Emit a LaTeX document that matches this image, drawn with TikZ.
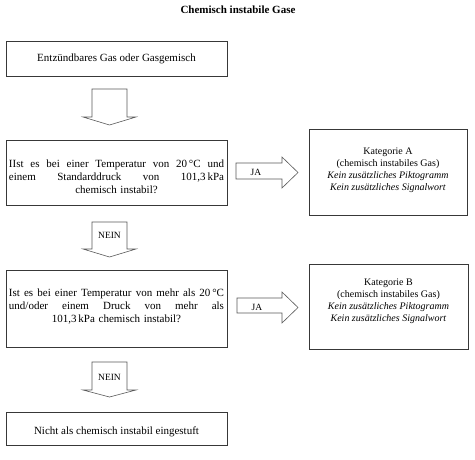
\documentclass[tikz,border=0pt]{standalone}
\usepackage{fontspec}
\setmainfont{Liberation Serif}
\usetikzlibrary{calc}
\definecolor{boxcol}{gray}{0.22}
\definecolor{arrowcol}{gray}{0.35}
\newcommand\jline[1]{\leavevmode\hbox to 215pt{\spaceskip=0.25em plus 1fil\relax #1}}
\tikzset{
  box/.style={draw=boxcol, line width=0.9pt, fill=white, inner sep=0pt},
  blockarrow/.style={draw=arrowcol, line width=0.6pt, fill=white, line join=miter},
  txt/.style={font=\fontsize{11}{13}\selectfont, inner sep=0pt, align=center},
  cattxt/.style={font=\fontsize{10}{12}\selectfont, inner sep=0pt, align=center},
  lbl/.style={font=\fontsize{9.5}{11}\selectfont, inner sep=0pt},
  ttl/.style={font=\fontsize{11}{13}\selectfont\bfseries, inner sep=0pt}
}
\begin{document}
\begin{tikzpicture}[x=1pt,y=-1pt]
\useasboundingbox (0,0) rectangle (475,459);

\node[ttl] (title) at (238,10) {Chemisch instabile Gase};

% boxes
\node[box, minimum width=221pt, minimum height=35pt] (b1) at (116.5,58.5) {};
\node[box, minimum width=221pt, minimum height=65pt] (b2) at (116.5,172.5) {};
\node[box, minimum width=221pt, minimum height=77pt] (b3) at (116.5,308.5) {};
\node[box, minimum width=221pt, minimum height=33pt] (b4) at (116.5,428.5) {};
\node[box, minimum width=158pt, minimum height=86pt] (ca) at (388,172) {};
\node[box, minimum width=159pt, minimum height=85pt] (cb) at (388.5,306.5) {};

% texts
\node[txt] (t1) at (b1.center) {Entzündbares Gas oder Gasgemisch};
\node[txt, text width=215pt] (t2) at ($(b2.center)+(0,4.5)$) {%
  \jline{IIst es bei einer Temperatur von 20\,°C und}\\
  \jline{einem Standarddruck von 101,3\,kPa}\\
  chemisch instabil?};
\node[txt, text width=215pt] (t3) at ($(b3.center)+(0,-2)$) {%
  \jline{Ist es bei einer Temperatur von mehr als 20\,°C}\\
  \jline{und/oder einem Druck von mehr als}\\
  101,3\,kPa chemisch instabil?};
\node[txt] (t4) at ($(b4.center)+(0,3)$) {Nicht als chemisch instabil eingestuft};
\node[cattxt] (ta) at ($(ca.center)+(0,-2)$) {Kategorie A\\(chemisch instabiles Gas)\\\textit{Kein zusätzliches Piktogramm}\\\textit{Kein zusätzliches Signalwort}};
\node[cattxt] (tb) at ($(cb.center)+(0,-5.5)$) {Kategorie B\\(chemisch instabiles Gas)\\\textit{Kein zusätzliches Piktogramm}\\\textit{Kein zusätzliches Signalwort}};

% block arrows
\draw[blockarrow] (92,89) -- (127,89) -- (127,117) -- (136,117) -- (109.5,125) -- (83,117) -- (92,117) -- cycle;
\draw[blockarrow] (92,222) -- (127,222) -- (127,249) -- (136,249) -- (109.5,257) -- (83,249) -- (92,249) -- cycle;
\node[lbl] (n1) at (109.5,235) {NEIN};
\draw[blockarrow] (92,362) -- (127,362) -- (127,390) -- (136,390) -- (109.5,397) -- (83,390) -- (92,390) -- cycle;
\node[lbl] (n2) at (109.5,377) {NEIN};
\draw[blockarrow] (236,163) -- (282,163) -- (282,157) -- (298,172.5) -- (282,188) -- (282,179) -- (236,179) -- cycle;
\node[lbl] (j1) at (256,172) {JA};
\draw[blockarrow] (237,298) -- (282,298) -- (282,292) -- (298,307.5) -- (282,323) -- (282,313) -- (237,313) -- cycle;
\node[lbl] (j2) at (257,307) {JA};
\end{tikzpicture}
\end{document}
